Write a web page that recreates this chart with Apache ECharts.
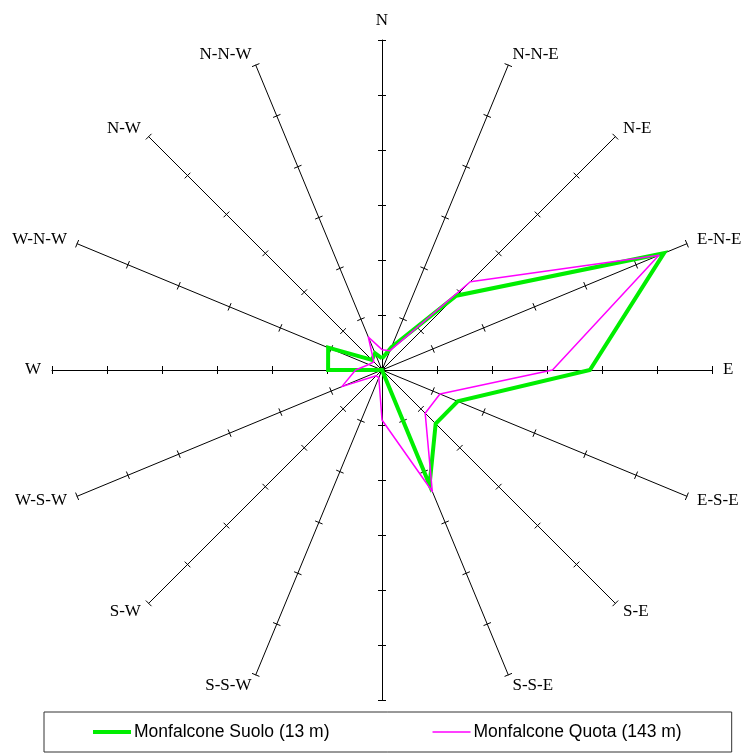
<!DOCTYPE html>
<html><head><meta charset="utf-8">
<script src="https://cdn.jsdelivr.net/npm/echarts@6/dist/echarts.min.js"></script>
<style>html,body{margin:0;padding:0;background:#fff}#c{width:745px;height:756px}</style>
</head><body><div id="c"></div>
<script>
// Directions listed counter-clockwise starting from North (ECharts radar order)
const directions = ['N','N-N-W','N-W','W-N-W','W','W-S-W','S-W','S-S-W','S','S-S-E','S-E','E-S-E','E','E-N-E','N-E','N-N-E'];
const suolo = [0.21,0.33,0.26,1.06,0.98,0,0,0,0,2.26,1.38,1.49,3.78,5.55,1.91,0.45];
const quota = [0.37,0.65,0.21,0.26,0.48,0.79,0.15,0.15,0.91,2.39,1.11,1.14,3.10,5.45,2.27,0.38];
const axisMax = 6;
const axisSplits = 6;
const seriesNames = ['Monfalcone Suolo (13 m)','Monfalcone Quota (143 m)'];

const indicator = directions.map(d => ({ name: d, min: 0, max: axisMax }));
const center = [382, 370];
const radius = 330;
const chart = echarts.init(document.getElementById('c'), null, { renderer: 'canvas' });
chart.setOption({
  animation: false,
  backgroundColor: '#fff',
  legend: {
    left: 44, top: 712,
    z: 50, zlevel: 0,
    orient: 'horizontal',
    padding: [11, 50, 11, 49],
    itemGap: 103,
    itemWidth: 38, itemHeight: 14,
    backgroundColor: '#fff',
    borderColor: '#333', borderWidth: 1,
    textStyle: { fontFamily: 'Liberation Sans, Arial, sans-serif', fontSize: 17.5, color: '#000', padding: [0,0,0,-2] },
    data: [
      { name: seriesNames[0], icon: 'path://M0,0L38,0L38,4L0,4Z', itemStyle: { color: '#00ee00' } },
      { name: seriesNames[1], icon: 'path://M0,0L38,0L38,1.5L0,1.5Z', itemStyle: { color: '#ff00ff' } }
    ]
  },
  radar: [
    {
      center: center, radius: radius, startAngle: 90, shape: 'polygon',
      splitNumber: axisSplits,
      indicator: indicator,
      axisName: { color: '#000', fontFamily: 'Liberation Serif, Times New Roman, serif', fontSize: 17 },
      nameGap: 11,
      axisLine: { show: true, lineStyle: { color: '#000', width: 1 } },
      axisTick: { show: true, length: 4, lineStyle: { color: '#000', width: 1 } },
      axisLabel: { show: false },
      splitLine: { show: false },
      splitArea: { show: false }
    },
    {
      center: center, radius: radius, startAngle: 90, shape: 'polygon',
      splitNumber: axisSplits,
      indicator: indicator,
      axisName: { show: false },
      axisLine: { show: false },
      axisTick: { show: true, length: -4, lineStyle: { color: '#000', width: 1 } },
      axisLabel: { show: false },
      splitLine: { show: false },
      splitArea: { show: false }
    }
  ],
  series: [
    {
      type: 'radar', radarIndex: 0, name: seriesNames[0], symbol: 'none', z: 3,
      lineStyle: { color: '#00ee00', width: 4, join: 'miter' },
      itemStyle: { color: '#00ee00' },
      data: [{ name: seriesNames[0], value: suolo }]
    },
    {
      type: 'radar', radarIndex: 0, name: seriesNames[1], symbol: 'none', z: 4,
      lineStyle: { color: '#ff00ff', width: 1.5 },
      itemStyle: { color: '#ff00ff' },
      data: [{ name: seriesNames[1], value: quota }]
    }
  ]
});
</script></body></html>
